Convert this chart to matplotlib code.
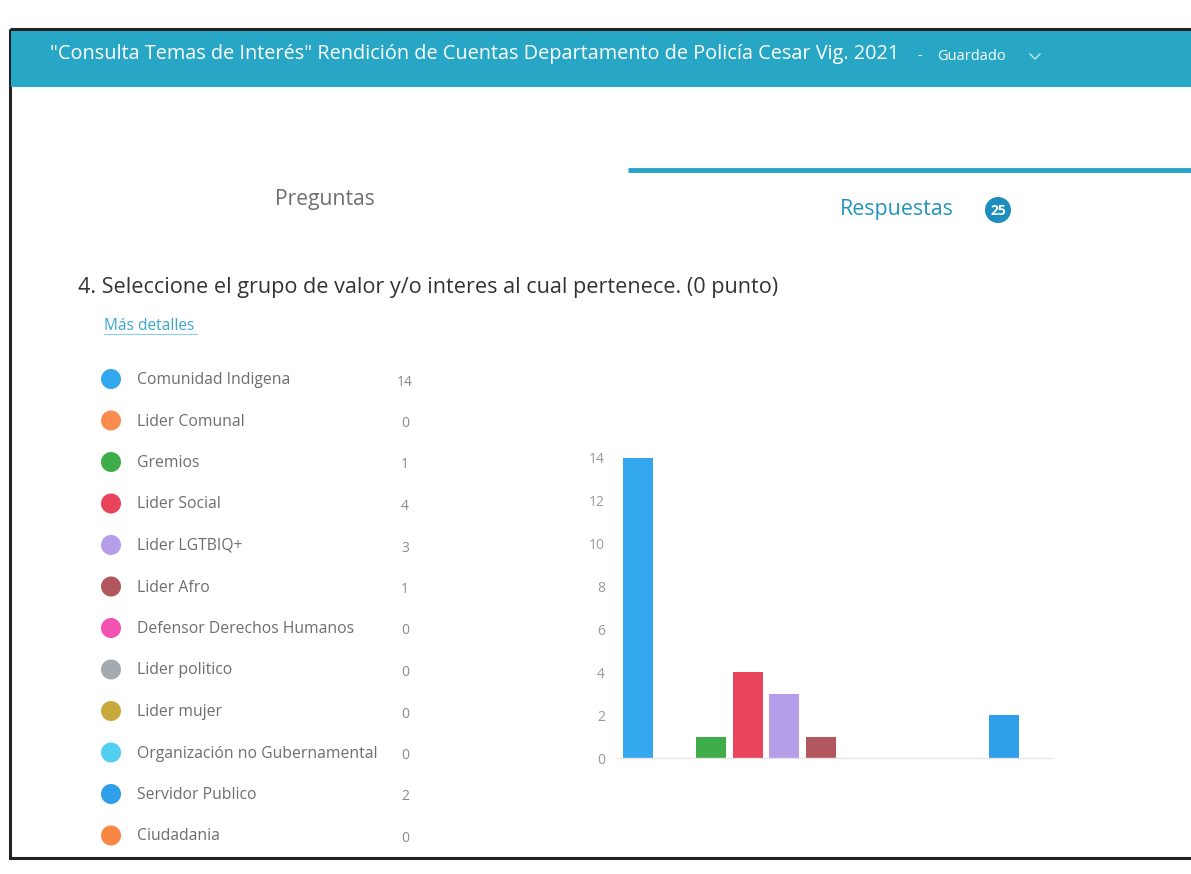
import matplotlib
matplotlib.use("Agg")
import matplotlib.pyplot as plt
from matplotlib.patches import Rectangle, Circle

# ---- data ----
categories = ["Comunidad Indigena", "Lider Comunal", "Gremios", "Lider Social",
              "Lider LGTBIQ+", "Lider Afro", "Defensor Derechos Humanos",
              "Lider politico", "Lider mujer", "Organización no Gubernamental",
              "Servidor Publico", "Ciudadania"]
counts = [14, 0, 1, 4, 3, 1, 0, 0, 0, 0, 2, 0]
colors = ["#33a8ee", "#f98c4e", "#3fae4a", "#e8445b", "#b49de9", "#b2575d",
          "#f252b2", "#a3aab0", "#c8a93c", "#52cff0", "#2e9fe8", "#f98643"]
yticks = [0, 2, 4, 6, 8, 10, 12, 14]

header_title = "\"Consulta Temas de Interés\" Rendición de Cuentas Departamento de Policía Cesar Vig. 2021"
question = "4. Seleccione el grupo de valor y/o interes al cual pertenece. (0 punto)"
responses_total = 25

W, H = 1191, 874
fig = plt.figure(figsize=(W / 100, H / 100), dpi=100)
fig.patch.set_facecolor("white")

bg = fig.add_axes([0, 0, 1, 1])
bg.set_xlim(0, W)
bg.set_ylim(H, 0)
bg.axis("off")

FONT = "Open Sans"
TEAL = "#27a7c5"

# frame and header
bg.add_patch(Rectangle((10, 29), W, 829, fill=False, edgecolor="#222222", linewidth=2.2))
bg.add_patch(Rectangle((11, 31), W, 56, facecolor=TEAL, edgecolor="none"))
bg.text(50, 54, header_title, color="white", fontsize=14.3, family=FONT,
        va="center", ha="left")
bg.text(918, 56, "-", color="white", fontsize=10, family=FONT, va="center")
bg.text(937, 57, "Guardado", color="white", fontsize=10.5, family=FONT, va="center")
bg.plot([1030, 1035, 1040], [54, 59, 54], color="#d8eef4", linewidth=0.9)

# tabs
bg.plot([628, W], [170, 170], color="#2aa3c9", linewidth=3.5, solid_capstyle="butt")
bg.text(325, 199, "Preguntas", color="#6f6f6f", fontsize=15.2, family=FONT,
        va="center", ha="center")
bg.text(897, 209, "Respuestas", color="#2294be", fontsize=15.4, family=FONT,
        va="center", ha="center")
bg.add_patch(Circle((998, 210), 13, facecolor="#1d8dbd", edgecolor="none"))
bg.text(998, 211, str(responses_total), color="white", fontsize=10, family=FONT,
        fontweight="bold", va="center", ha="center")

# question
bg.text(78, 287, question, color="#333333", fontsize=15.6, family=FONT,
        va="center", ha="left")
bg.text(104, 326, "Más detalles", color="#3aa7cc", fontsize=11.2, family=FONT,
        va="center", ha="left")
bg.plot([104, 197], [334, 334], color="#8fcde3", linewidth=0.8)

# legend list
row0, step = 379, 41.5
for i, (name, c, col) in enumerate(zip(categories, counts, colors)):
    y = row0 + step * i
    bg.add_patch(Circle((111, y), 10, facecolor=col, edgecolor="none"))
    bg.text(137, y + 1, name, color="#6e6e6e", fontsize=11.3, family=FONT,
            va="center", ha="left")
    bg.text(405, y + 3, str(c), color="#8a8a8a", fontsize=10, family=FONT,
            va="center", ha="center")

# bar chart
ax = fig.add_axes([616 / W, (H - 758) / H, (1051.6 - 616) / W, (758 - 449) / H])
ax.set_facecolor("none")
x = list(range(len(categories)))
ax.bar(x, counts, width=0.82, color=colors)
ax.set_xlim(-0.6, 11.3)
ax.set_ylim(0, 14.4)
ax.set_yticks(yticks)
ax.set_yticklabels([str(t) for t in yticks], color="#9a9a9a", fontsize=10, family=FONT)
ax.set_xticks([])
for s in ["top", "right", "left"]:
    ax.spines[s].set_visible(False)
ax.spines["bottom"].set_color("#e6e6e6")
ax.spines["bottom"].set_linewidth(1.0)
ax.tick_params(axis="y", length=0, pad=8)

fig.savefig("out.png", dpi=100)
